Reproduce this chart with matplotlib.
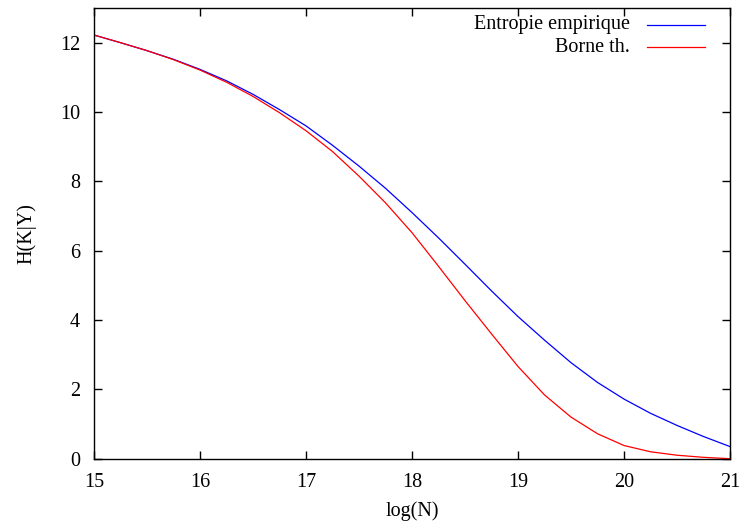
import matplotlib
matplotlib.use("Agg")
import matplotlib.pyplot as plt
from matplotlib.lines import Line2D

log_n = [15.0, 15.25, 15.5, 15.75, 16.0, 16.25, 16.5, 16.75, 17.0, 17.25, 17.5, 17.75,
         18.0, 18.25, 18.5, 18.75, 19.0, 19.25, 19.5, 19.75, 20.0, 20.25, 20.5, 20.75, 21.0]
entropie_empirique = [12.22, 12.0, 11.77, 11.52, 11.23, 10.9, 10.51, 10.07, 9.6, 9.04,
                      8.44, 7.8, 7.1, 6.37, 5.61, 4.84, 4.1, 3.42, 2.77, 2.2, 1.72,
                      1.31, 0.96, 0.64, 0.35]
borne_th = [12.22, 12.0, 11.77, 11.51, 11.21, 10.86, 10.45, 9.98, 9.46, 8.86, 8.15, 7.38,
            6.52, 5.55, 4.56, 3.6, 2.66, 1.84, 1.2, 0.72, 0.38, 0.2, 0.1, 0.04, 0.0]
labels = ["Entropie empirique", "Borne th."]
colors = ["#0000ff", "#ff0000"]
x_ticks = [15, 16, 17, 18, 19, 20, 21]
y_ticks = [0, 2, 4, 6, 8, 10, 12]

plt.rcParams['font.family'] = ['Liberation Serif', 'DejaVu Serif']

fig = plt.figure(figsize=(7.43, 5.21), dpi=100)
ax = fig.add_axes([94/743, 1 - 458.7/521, (730 - 94)/743, (458.7 - 8)/521])

ax.plot(log_n, entropie_empirique, color=colors[0], lw=0.9)
ax.plot(log_n, borne_th, color=colors[1], lw=0.9)

ax.set_xlim(15, 21)
ax.set_ylim(0, 13)
ax.set_xticks(x_ticks)
ax.set_yticks(y_ticks)
ax.tick_params(direction='in', length=6, width=1, top=True, right=True,
               labelsize=14.5, pad=10, color='black')
ax.tick_params(axis='y', pad=10)
for s in ax.spines.values():
    s.set_linewidth(1.0)

ax.set_xlabel("log(N)", fontsize=14.5, labelpad=7)
ax.set_ylabel("H(K|Y)", fontsize=14.5, labelpad=17)

# legend (gnuplot style: right-aligned text, sample to the right)
rows_y = [(458.7 - 25) / 450.7, (458.7 - 47) / 450.7]
for lab, col, yy in zip(labels, colors, rows_y):
    ax.text((630 - 94) / 636, yy, lab, transform=ax.transAxes, ha='right', va='center',
            fontsize=14.5)
    ax.add_line(Line2D([(647 - 94) / 636, (705 - 94) / 636], [yy, yy], transform=ax.transAxes,
                       color=col, lw=0.9))

fig.savefig("out.png", dpi=100)
